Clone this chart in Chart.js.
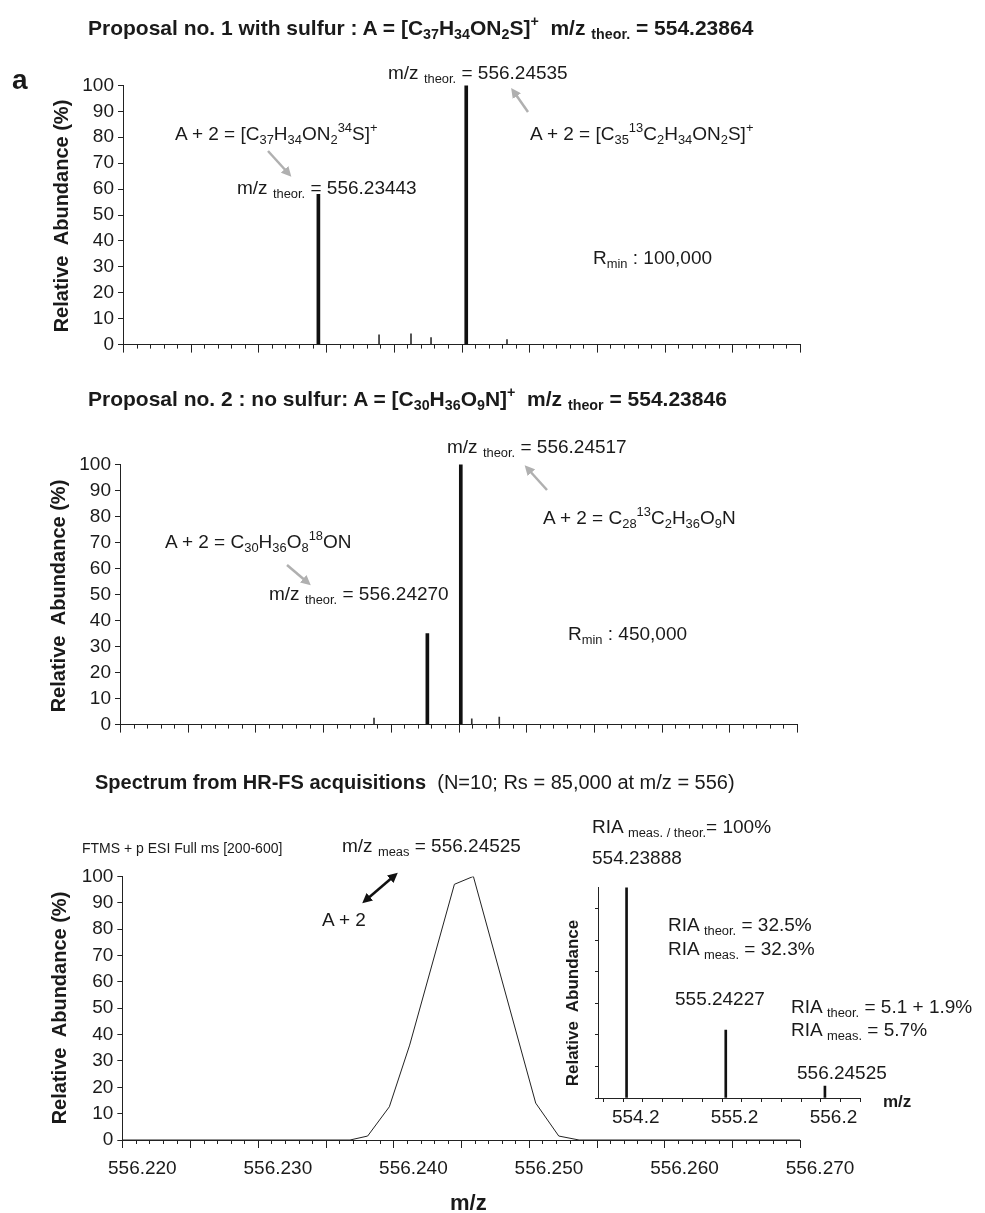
<!DOCTYPE html>
<html>
<head>
<meta charset="utf-8">
<script src="https://cdn.jsdelivr.net/npm/chart.js@4.4.0/dist/chart.umd.min.js"></script>
<style>
body { margin: 0; background: #fff; width: 985px; height: 1213px; position: relative; overflow: hidden;
       font-family: "Liberation Sans", Arial, sans-serif; color: #1a1a1a; }
canvas { position: absolute; }
.t { position: absolute; white-space: nowrap; font-size: 19px; line-height: 1; transform: translateY(-50%); z-index: 5; }
.b { font-weight: bold; }
.rot { position: absolute; white-space: nowrap; font-weight: bold; font-size: 20px; line-height: 1;
       transform: translate(-50%, -50%) rotate(-90deg); z-index: 5; }
sub { font-size: 0.68em; vertical-align: -0.35em; line-height: 0; }
sup { font-size: 0.68em; vertical-align: 0.6em; line-height: 0; }
svg { position: absolute; left: 0; top: 0; z-index: 4; }
</style>
</head>
<body>

<canvas id="c1" width="787" height="290" style="left:73px;top:70px"></canvas>
<canvas id="c2" width="787" height="291" style="left:70px;top:449px"></canvas>
<canvas id="c3" width="789" height="329" style="left:71px;top:861px"></canvas>
<canvas id="c4" width="282" height="261" style="left:586px;top:872px"></canvas>

<!-- panel 1 text -->
<div class="t b" style="left:88px;top:27px;font-size:21px">Proposal no. 1 with sulfur : A = [C<sub>37</sub>H<sub>34</sub>ON<sub>2</sub>S]<sup>+</sup>&nbsp; m/z <sub>theor.</sub> = 554.23864</div>
<div class="t b" style="left:12px;top:80px;font-size:28px">a</div>
<div class="rot" style="left:61px;top:216px">Relative&nbsp; Abundance (%)</div>
<div class="t" style="left:388px;top:72px">m/z <sub>theor.</sub> = 556.24535</div>
<div class="t" style="left:530px;top:133px">A + 2 = [C<sub>35</sub><sup>13</sup>C<sub>2</sub>H<sub>34</sub>ON<sub>2</sub>S]<sup>+</sup></div>
<div class="t" style="left:175px;top:133px">A + 2 = [C<sub>37</sub>H<sub>34</sub>ON<sub>2</sub><sup>34</sup>S]<sup>+</sup></div>
<div class="t" style="left:237px;top:187px">m/z <sub>theor.</sub> = 556.23443</div>
<div class="t" style="left:593px;top:257px">R<sub>min</sub> : 100,000</div>

<!-- panel 2 text -->
<div class="t b" style="left:88px;top:398px;font-size:21px">Proposal no. 2 : no sulfur: A = [C<sub>30</sub>H<sub>36</sub>O<sub>9</sub>N]<sup>+</sup>&nbsp; m/z <sub>theor</sub> = 554.23846</div>
<div class="rot" style="left:58px;top:596px">Relative&nbsp; Abundance (%)</div>
<div class="t" style="left:447px;top:446px">m/z <sub>theor.</sub> = 556.24517</div>
<div class="t" style="left:543px;top:517px">A + 2 = C<sub>28</sub><sup>13</sup>C<sub>2</sub>H<sub>36</sub>O<sub>9</sub>N</div>
<div class="t" style="left:165px;top:541px">A + 2 = C<sub>30</sub>H<sub>36</sub>O<sub>8</sub><sup>18</sup>ON</div>
<div class="t" style="left:269px;top:593px">m/z <sub>theor.</sub> = 556.24270</div>
<div class="t" style="left:568px;top:633px">R<sub>min</sub> : 450,000</div>

<!-- panel 3 text -->
<div class="t" style="left:95px;top:782px;font-size:20px"><b>Spectrum from HR-FS acquisitions</b>&nbsp; (N=10; Rs = 85,000 at m/z = 556)</div>
<div class="t" style="left:82px;top:848px;font-size:14px">FTMS + p ESI Full ms [200-600]</div>
<div class="rot" style="left:59px;top:1008px">Relative&nbsp; Abundance (%)</div>
<div class="t" style="left:342px;top:845px">m/z <sub>meas</sub> = 556.24525</div>
<div class="t" style="left:322px;top:919px">A + 2</div>
<div class="t b" style="left:450px;top:1203px;font-size:22px">m/z</div>

<!-- inset text -->
<div class="t" style="left:592px;top:826px">RIA <sub>meas. / theor.</sub>= 100%</div>
<div class="t" style="left:592px;top:857px">554.23888</div>
<div class="t" style="left:668px;top:924px">RIA <sub>theor.</sub> = 32.5%</div>
<div class="t" style="left:668px;top:948px">RIA <sub>meas.</sub> = 32.3%</div>
<div class="t" style="left:675px;top:998px">555.24227</div>
<div class="t" style="left:791px;top:1006px">RIA <sub>theor.</sub> = 5.1 + 1.9%</div>
<div class="t" style="left:791px;top:1029px">RIA <sub>meas.</sub> = 5.7%</div>
<div class="t" style="left:797px;top:1072px">556.24525</div>
<div class="rot" style="left:572px;top:1003px;font-size:17px">Relative&nbsp; Abundance</div>
<div class="t b" style="left:883px;top:1101px;font-size:17px">m/z</div>

<svg width="985" height="1213">
  <defs>
    <marker id="gh" markerWidth="4" markerHeight="4" refX="2" refY="2" orient="auto" markerUnits="strokeWidth">
      <path d="M0,0 L4,2 L0,4 z" fill="#b0b0b0"/>
    </marker>
    <marker id="bh" markerWidth="4" markerHeight="4" refX="2" refY="2" orient="auto-start-reverse" markerUnits="strokeWidth">
      <path d="M0,0 L4,2 L0,4 z" fill="#111"/>
    </marker>
  </defs>
  <line x1="528" y1="112" x2="514" y2="92" stroke="#b0b0b0" stroke-width="2.5" marker-end="url(#gh)"/>
  <line x1="268" y1="151" x2="288" y2="173" stroke="#b0b0b0" stroke-width="2.5" marker-end="url(#gh)"/>
  <line x1="547" y1="490" x2="528" y2="469" stroke="#b0b0b0" stroke-width="2.5" marker-end="url(#gh)"/>
  <line x1="287" y1="565" x2="307" y2="582" stroke="#b0b0b0" stroke-width="2.5" marker-end="url(#gh)"/>
  <line x1="366" y1="900" x2="394" y2="876" stroke="#111" stroke-width="2.5" marker-start="url(#bh)" marker-end="url(#bh)"/>
</svg>

<script>
// proposal 1 (with sulfur), theoretical sticks
const p1PeakMz = [556.23443, 556.24535];
const p1PeakAb = [58, 100];
const p1SmallMz = [556.23891, 556.24127, 556.24275, 556.24836];
const p1SmallAb = [3.8, 4.2, 2.7, 1.9];

// proposal 2 (no sulfur), theoretical sticks
const p2PeakMz = [556.24270, 556.24517];
const p2PeakAb = [35, 100];
const p2SmallMz = [556.23876, 556.24598, 556.24801];
const p2SmallAb = [2.5, 2.2, 2.9];

// measured profile (HR-FS)
const p3Mz = [556.220, 556.2368, 556.2381, 556.2397, 556.2412, 556.2445, 556.2459, 556.2505, 556.2522, 556.2537, 556.270];
const p3Ab = [0, 0, 1.5, 12.6, 36, 97, 100, 14, 1.5, 0, 0];

// inset: isotope pattern
const insetMz = [554.23888, 555.24227, 556.24525];
const insetAb = [100, 32.3, 5.7];

const xTickLabels = ['556.220', '556.230', '556.240', '556.250', '556.260', '556.270'];
const insetTickLabels = ['554.2', '555.2', '556.2'];

Chart.defaults.font.family = '"Liberation Sans", Arial, sans-serif';
Chart.defaults.color = '#1a1a1a';

// small / long tick marks under the x axis
const xTickMarks = {
    id: 'xTickMarks',
    afterDraw(chart, args, opts) {
        const sc = chart.scales.x;
        const ctx = chart.ctx;
        ctx.save();
        ctx.strokeStyle = '#222';
        ctx.lineWidth = 1;
        sc.ticks.forEach(t => {
            const n = Math.round((t.value - opts.start) / opts.step);
            const len = n % opts.every === 0 ? opts.major : opts.minor;
            const px = Math.round(sc.getPixelForValue(t.value)) + 0.5;
            ctx.beginPath();
            ctx.moveTo(px, sc.top);
            ctx.lineTo(px, sc.top + len);
            ctx.stroke();
        });
        ctx.restore();
    }
};

function pts(xs, ys) {
    return xs.map((x, i) => ({ x: x, y: ys[i] }));
}

function yAxis(step, width, labels) {
    return {
        min: 0, max: 100,
        ticks: {
            stepSize: step, padding: 4, font: { size: 19 },
            callback: v => labels ? v : ''
        },
        grid: { drawOnChartArea: false, drawTicks: true, tickLength: labels ? 5 : 3, color: '#222' },
        border: { color: '#222', width: 1 },
        afterFit: s => { s.width = width; }
    };
}

function mzAxis(height, labels) {
    return {
        type: 'linear', min: 556.22, max: 556.27, offset: false,
        ticks: {
            stepSize: 0.001, autoSkip: false, maxRotation: 0, minRotation: 0,
            padding: 17, labelOffset: 20, font: { size: 19 },
            callback: v => {
                if (!labels) return '';
                const s = v.toFixed(3);
                return xTickLabels.includes(s) ? s : '';
            }
        },
        grid: { display: false, drawTicks: false, offset: false },
        border: { color: '#222', width: 1 },
        afterFit: s => { s.height = height; }
    };
}

function stickChart(id, peakMz, peakAb, smallMz, smallAb) {
    const ctx = document.getElementById(id).getContext('2d');
    return new Chart(ctx, {
        type: 'bar',
        data: {
            datasets: [{
                data: pts(peakMz, peakAb),
                backgroundColor: '#111',
                barThickness: 3,
                grouped: false
            }, {
                data: pts(smallMz, smallAb),
                backgroundColor: '#333',
                barThickness: 1,
                grouped: false
            }]
        },
        options: {
            responsive: false, animation: false, devicePixelRatio: 1, events: [],
            layout: { padding: { top: 15, right: 60, left: 0, bottom: 0 } },
            plugins: {
                legend: { display: false }, tooltip: { enabled: false },
                xTickMarks: { start: 556.22, step: 0.001, every: 5, minor: 4, major: 8 }
            },
            scales: { x: mzAxis(12, false), y: yAxis(10, 50, true) }
        },
        plugins: [xTickMarks]
    });
}

stickChart('c1', p1PeakMz, p1PeakAb, p1SmallMz, p1SmallAb);
stickChart('c2', p2PeakMz, p2PeakAb, p2SmallMz, p2SmallAb);

// measured profile
new Chart(document.getElementById('c3').getContext('2d'), {
    type: 'line',
    data: {
        datasets: [{
            data: pts(p3Mz, p3Ab),
            borderColor: '#222',
            borderWidth: 1,
            pointRadius: 0,
            tension: 0,
            fill: false
        }]
    },
    options: {
        responsive: false, animation: false, devicePixelRatio: 1, events: [],
        layout: { padding: { top: 15, right: 60, left: 0, bottom: 0 } },
        plugins: {
            legend: { display: false }, tooltip: { enabled: false },
            xTickMarks: { start: 556.22, step: 0.001, every: 5, minor: 4, major: 8 }
        },
        scales: { x: mzAxis(50, true), y: yAxis(10, 50, true) }
    },
    plugins: [xTickMarks]
});

// inset spectrum
new Chart(document.getElementById('c4').getContext('2d'), {
    type: 'bar',
    data: {
        datasets: [{
            data: pts(insetMz, insetAb),
            backgroundColor: '#111',
            barThickness: 2,
            grouped: false
        }]
    },
    options: {
        responsive: false, animation: false, devicePixelRatio: 1, events: [],
        layout: { padding: { top: 5, right: 5, left: 0, bottom: 0 } },
        plugins: {
            legend: { display: false }, tooltip: { enabled: false },
            xTickMarks: { start: 554.0, step: 0.2, every: 1000, minor: 4, major: 4 }
        },
        scales: {
            x: {
                type: 'linear', min: 553.95, max: 556.6, offset: false,
                ticks: {
                    stepSize: 0.2, includeBounds: false, autoSkip: false, maxRotation: 0, minRotation: 0,
                    padding: 8, labelOffset: 13, font: { size: 19 },
                    callback: v => {
                        const s = v.toFixed(1);
                        return insetTickLabels.includes(s) ? s : '';
                    }
                },
                grid: { display: false, drawTicks: false, offset: false },
                border: { color: '#222', width: 1 },
                afterFit: s => { s.height = 35; }
            },
            y: yAxis(5, 12, false)
        }
    },
    plugins: [xTickMarks]
});
</script>
</body>
</html>
